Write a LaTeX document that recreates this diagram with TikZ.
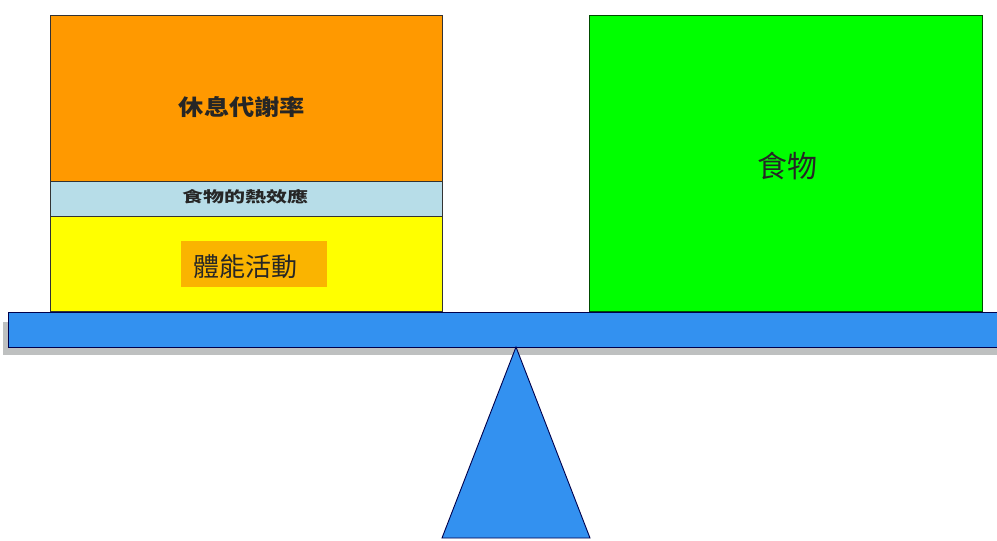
\documentclass[tikz,border=0pt]{standalone}
\usepackage{fontspec}
\newfontfamily\cjk{Noto Sans CJK TC}
\definecolor{rmrorange}{RGB}{255,153,0}
\definecolor{tefblue}{RGB}{183,221,232}
\definecolor{payellow}{RGB}{255,255,0}
\definecolor{padark}{RGB}{250,180,0}
\definecolor{foodgreen}{RGB}{0,255,0}
\definecolor{beamblue}{RGB}{51,145,240}
\definecolor{shadowgray}{RGB}{190,192,192}
\begin{document}
\begin{tikzpicture}[x=1pt,y=-1pt,
  box/.style={draw=black!80, line width=0.8pt, inner sep=0pt, anchor=north west},
  lbl/.style={text=black!85, inner sep=0pt}]
\useasboundingbox (0,0) rectangle (997,541);
% shadow of beam
\fill[shadowgray] (3,322) rectangle (1005,355);
% left stack
\node[box, fill=rmrorange, minimum width=392pt, minimum height=166pt] (rmr) at (50,15) {};
\node[box, fill=tefblue, minimum width=392pt, minimum height=35pt] (tef) at (50,181) {};
\node[box, fill=payellow, minimum width=392pt, minimum height=95pt] (pa) at (50,216) {};
\node[fill=padark, inner sep=0pt, minimum width=146pt, minimum height=46pt] (pabg) at (254,264) {};
% right box
\node[box, draw=black!70!green, fill=foodgreen, minimum width=393pt, minimum height=296pt] (food) at (589,15) {};
% labels
\node[lbl, font=\cjk\bfseries\fontsize{22}{22}\selectfont, xscale=1.15] (trmr) at (242,107) {休息代謝率};
\node[lbl, font=\cjk\bfseries\fontsize{15}{15}\selectfont, xscale=1.4] (ttef) at (245,197) {食物的熱效應};
\node[lbl, font=\cjk\fontsize{26}{26}\selectfont] (tpa) at (245,267) {體能活動};
\node[lbl, font=\cjk\fontsize{30}{30}\selectfont] (tfood) at (787,166) {食物};
% beam
\node[box, draw=black!70!blue, fill=beamblue, minimum width=1000pt, minimum height=35pt] (beam) at (8,312) {};
% fulcrum
\coordinate (apex) at (516,347);
\coordinate (bl) at (442,538);
\coordinate (br) at (590,538);
\draw[draw=black!70!blue, line width=0.9pt, fill=beamblue, line join=miter] (apex) -- (bl) -- (br) -- cycle;
\end{tikzpicture}
\end{document}
